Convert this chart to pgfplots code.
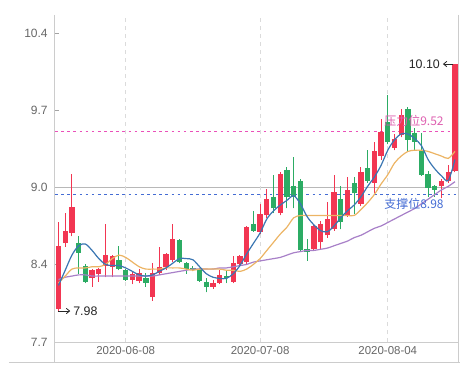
\documentclass[border=0pt]{standalone}
\usepackage{pgfplots}
\pgfplotsset{compat=1.18}
\usepackage{pgfplotstable}
\usepackage{fontspec}
\setmainfont{Liberation Sans}
\newfontfamily\cjk{Noto Sans CJK SC}
\usetikzlibrary{arrows.meta}

\definecolor{upc}{RGB}{242,54,82}
\definecolor{dnc}{RGB}{44,172,100}
\definecolor{ma1}{RGB}{58,118,178}
\definecolor{ma2}{RGB}{236,180,100}
\definecolor{ma3}{RGB}{168,128,200}
\definecolor{pinkc}{RGB}{222,96,176}
\definecolor{pinkl}{RGB}{235,80,185}
\definecolor{supc}{RGB}{68,108,212}
\definecolor{framec}{RGB}{204,204,204}
\definecolor{labc}{RGB}{102,102,102}

\pgfplotstableread{
i o h l c
0 8.00 8.74 7.98 8.54
1 8.56 8.82 8.53 8.67
2 8.65 9.16 8.62 8.87
5 8.26 8.34 8.19 8.33
6 8.30 8.35 8.23 8.34
7 8.37 8.73 8.27 8.46
8 8.36 8.46 8.27 8.45
11 8.25 8.32 8.21 8.30
12 8.24 8.34 8.22 8.31
14 8.10 8.39 8.07 8.31
15 8.31 8.53 8.29 8.36
16 8.36 8.48 8.33 8.47
17 8.42 8.73 8.40 8.60
23 8.19 8.25 8.17 8.22
24 8.22 8.33 8.21 8.29
26 8.23 8.45 8.22 8.39
27 8.38 8.46 8.37 8.45
28 8.40 8.71 8.38 8.70
30 8.66 8.90 8.64 8.81
31 8.80 9.03 8.78 8.94
33 8.82 9.17 8.80 9.16
38 8.51 8.72 8.50 8.71
39 8.57 8.75 8.51 8.73
40 8.63 8.92 8.61 8.77
41 8.68 9.15 8.67 9.00
43 8.80 9.13 8.79 9.02
45 8.90 9.22 8.88 9.17
47 9.08 9.43 8.99 9.35
48 9.31 9.63 9.28 9.52
50 9.38 9.50 9.36 9.46
51 9.49 9.71 9.47 9.66
57 9.05 9.11 8.95 9.10
58 9.10 9.23 9.08 9.17
59 9.18 10.10 9.17 10.10
}\up

\pgfplotstableread{
i o h l c
3 8.56 8.62 8.30 8.48
4 8.37 8.38 8.22 8.23
9 8.42 8.54 8.33 8.34
10 8.33 8.34 8.24 8.25
13 8.26 8.31 8.19 8.22
18 8.59 8.60 8.39 8.40
19 8.39 8.40 8.30 8.34
20 8.35 8.37 8.32 8.33
21 8.34 8.35 8.23 8.24
22 8.23 8.26 8.14 8.19
25 8.28 8.32 8.22 8.26
29 8.73 8.84 8.66 8.67
32 8.96 9.15 8.82 8.86
34 9.19 9.22 8.86 8.96
35 9.05 9.30 8.86 8.96
36 9.10 9.11 8.49 8.50
37 8.51 8.60 8.41 8.49
42 8.94 9.05 8.68 8.74
44 9.08 9.13 8.81 8.99
46 9.21 9.36 9.08 9.10
49 9.60 9.83 9.41 9.43
52 9.71 9.73 9.35 9.45
53 9.51 9.55 9.36 9.43
54 9.36 9.51 9.14 9.15
55 9.16 9.18 8.96 9.04
56 9.05 9.06 8.96 9.02
}\down

\pgfplotsset{candle/.style={only marks, mark=*, mark size=0pt,
  mark options={draw=none, fill=none}, forget plot}}

\begin{document}
\begin{tikzpicture}
\path[use as bounding box] (0,0) rectangle (349.5pt,281.25pt);
\begin{axis}[
  at={(41.25pt,24.75pt)}, anchor=south west, scale only axis,
  width=302.25pt, height=245.25pt,
  xmin=-0.52, xmax=59.45, ymin=7.714, ymax=10.521,
  clip=false,
  axis line style={draw=none},
  xtick={10,30,49}, xticklabels={2020-06-08,2020-07-08,2020-08-04},
  xtick style={draw=none},
  ytick={7.714,8.38,9.04,9.70,10.36},
  yticklabels={7.7,8.4,9.0,9.7,10.4},
  ytick pos=left, xtick pos=bottom,
  tick align=inside, major tick length=3pt,
  ytick style={framec!80!black, line width=0.6pt},
  tick label style={font=\fontsize{9}{10}\selectfont, text=labc},
  yticklabel style={xshift=-2pt},
  xticklabel style={font=\fontsize{8.6}{10}\selectfont},
  /pgf/number format/assume math mode=true,
]
% frame and grid
\draw[framec, line width=0.75pt] (axis cs:-0.52,10.521) -- (axis cs:-0.52,7.542);
\draw[framec, line width=0.75pt] (axis cs:59.45,10.521) -- (axis cs:59.45,7.542);
\draw[framec, line width=0.75pt] (axis cs:-7.37,7.542) -- (axis cs:59.75,7.542);
\draw[framec, line width=0.75pt] (axis cs:-0.52,7.714) -- (axis cs:59.45,7.714);
\draw[framec!90!black, line width=0.75pt] (axis cs:-0.52,9.04) -- (axis cs:59.45,9.04);
\foreach \xx in {10,30,49}{
  \edef\tmp{\noexpand\draw[framec!70, line width=0.6pt, dash pattern=on 3pt off 3pt] (axis cs:\xx,7.714) -- (axis cs:\xx,10.521);}\tmp
}
% support / resistance
\draw[pinkl, line width=1pt, dash pattern=on 2pt off 2.6pt] (axis cs:-0.52,9.52) -- (axis cs:59.45,9.52);
\draw[supc, line width=0.9pt, dash pattern=on 2pt off 2.6pt] (axis cs:-0.52,8.98) -- (axis cs:59.45,8.98);

% wicks
\addplot[candle, error bars/.cd, y dir=plus, y explicit, error mark=none,
  error bar style={upc, line width=0.75pt}]
  table[x=i, y=l, y error plus expr=\thisrow{h}-\thisrow{l}] {\up};
\addplot[candle, error bars/.cd, y dir=plus, y explicit, error mark=none,
  error bar style={dnc, line width=0.75pt}]
  table[x=i, y=l, y error plus expr=\thisrow{h}-\thisrow{l}] {\down};
% bodies
\addplot[candle, error bars/.cd, y dir=plus, y explicit, error mark=none,
  error bar style={upc, line width=4pt}]
  table[x=i, y=o, y error plus expr=\thisrow{c}-\thisrow{o}] {\up};
\addplot[candle, error bars/.cd, y dir=plus, y explicit, error mark=none,
  error bar style={dnc, line width=4pt}]
  table[x=i, y=c, y error plus expr=\thisrow{o}-\thisrow{c}] {\down};

% moving averages
\addplot[ma3, line width=0.9pt, smooth, tension=0.5, mark=none] coordinates {
(0,8.25)(1,8.27)(2,8.28)(3,8.29)(4,8.29)(5,8.28)(6,8.28)(7,8.28)(8,8.28)(9,8.28)
(10,8.28)(11,8.28)(12,8.28)(13,8.28)(14,8.28)(15,8.29)(16,8.30)(17,8.31)(18,8.32)(19,8.33)
(20,8.34)(21,8.34)(22,8.34)(23,8.34)(24,8.35)(25,8.35)(26,8.36)(27,8.37)(28,8.38)(29,8.40)
(30,8.41)(31,8.42)(32,8.43)(33,8.44)(34,8.46)(35,8.48)(36,8.49)(37,8.50)(38,8.50)(39,8.51)
(40,8.52)(41,8.54)(42,8.56)(43,8.58)(44,8.61)(45,8.63)(46,8.66)(47,8.69)(48,8.71)(49,8.74)
(50,8.77)(51,8.80)(52,8.83)(53,8.86)(54,8.90)(55,8.94)(56,8.98)(57,9.02)(58,9.05)(59,9.09)};
\addplot[ma2, line width=0.9pt, smooth, tension=0.5, mark=none] coordinates {
(0,8.22)(1,8.28)(2,8.34)(3,8.35)(4,8.35)(5,8.36)(6,8.36)(7,8.38)(8,8.43)(9,8.46)
(10,8.44)(11,8.40)(12,8.36)(13,8.34)(14,8.34)(15,8.34)(16,8.35)(17,8.35)(18,8.35)(19,8.34)
(20,8.33)(21,8.34)(22,8.34)(23,8.34)(24,8.34)(25,8.33)(26,8.33)(27,8.32)(28,8.34)(29,8.38)
(30,8.43)(31,8.50)(32,8.57)(33,8.64)(34,8.70)(35,8.78)(36,8.80)(37,8.80)(38,8.80)(39,8.80)
(40,8.80)(41,8.80)(42,8.80)(43,8.80)(44,8.80)(45,8.85)(46,8.91)(47,8.98)(48,9.07)(49,9.15)
(50,9.25)(51,9.31)(52,9.35)(53,9.36)(54,9.36)(55,9.35)(56,9.33)(57,9.31)(58,9.29)(59,9.35)};
\addplot[ma1, line width=0.9pt, smooth, tension=0.5, mark=none] coordinates {
(0,8.20)(1,8.33)(2,8.46)(3,8.54)(4,8.555)(5,8.50)(6,8.43)(7,8.38)(8,8.37)(9,8.37)
(10,8.35)(11,8.32)(12,8.29)(13,8.28)(14,8.29)(15,8.32)(16,8.35)(17,8.39)(18,8.43)(19,8.43)
(20,8.42)(21,8.36)(22,8.30)(23,8.27)(24,8.26)(25,8.26)(26,8.30)(27,8.37)(28,8.47)(29,8.56)
(30,8.65)(31,8.77)(32,8.84)(33,8.89)(34,8.93)(35,8.97)(36,8.90)(37,8.79)(38,8.72)(39,8.67)
(40,8.66)(41,8.71)(42,8.78)(43,8.84)(44,8.89)(45,8.96)(46,9.05)(47,9.13)(48,9.23)(49,9.36)
(50,9.45)(51,9.50)(52,9.50)(53,9.46)(54,9.40)(55,9.28)(56,9.20)(57,9.14)(58,9.10)(59,9.28)};

% annotations
\draw[black!85, line width=0.6pt, -{Straight Barb[length=2.5pt,width=4pt]}] (axis cs:-0.1,7.98) -- (axis cs:1.75,7.98)
  node[right, inner sep=2pt, font=\fontsize{9.3}{10}\selectfont, text=black!85] {7.98};
\draw[black!85, line width=0.6pt, -{Straight Barb[length=2.5pt,width=4pt]}] (axis cs:58.75,10.10) -- (axis cs:57.2,10.10)
  node[left, inner sep=2pt, font=\fontsize{9.3}{10}\selectfont, text=black!85] {10.10};
\node[text=pinkc, font=\cjk\fontsize{9}{10}\selectfont, inner sep=0pt] at (axis cs:52.9,9.61) {压力位9.52};
\node[text=supc, font=\cjk\fontsize{9}{10}\selectfont, inner sep=0pt] at (axis cs:52.9,8.898) {支撑位8.98};
\end{axis}
\end{tikzpicture}
\end{document}
